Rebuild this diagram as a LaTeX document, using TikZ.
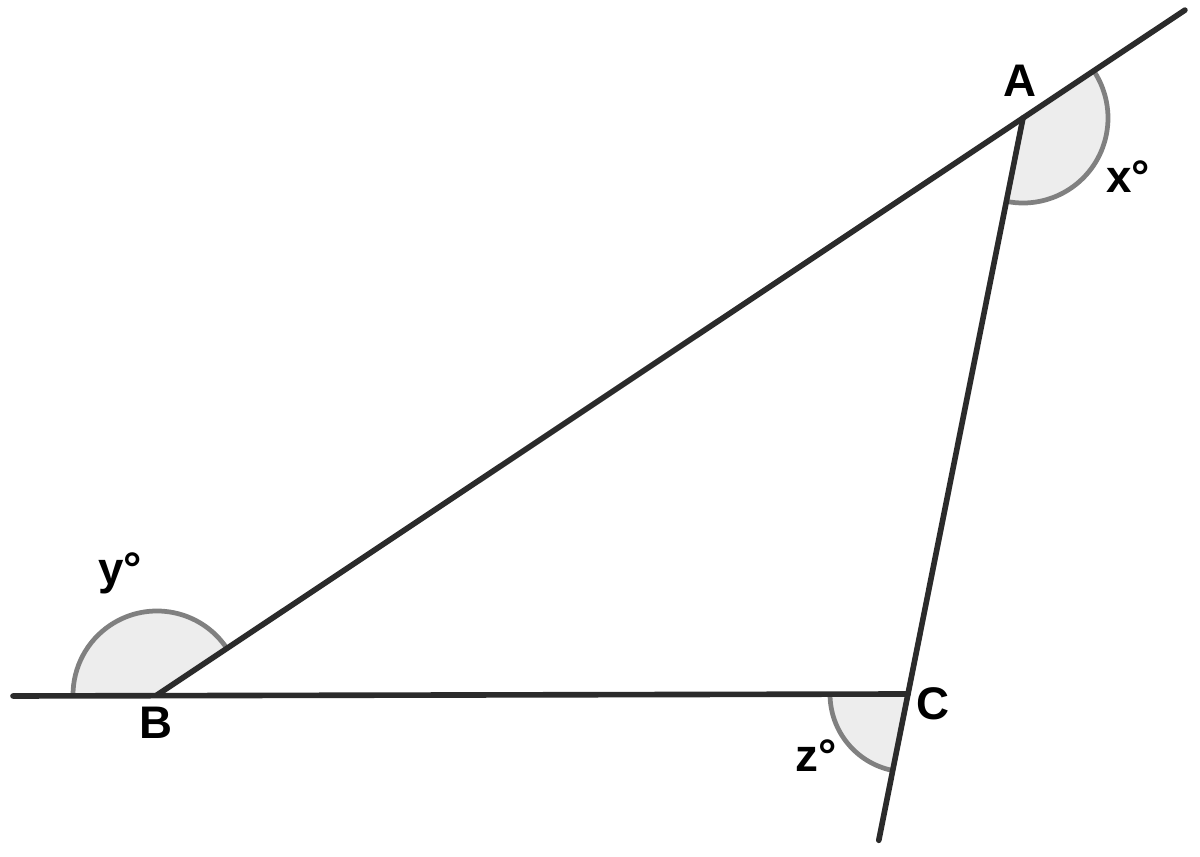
\documentclass[tikz,border=0pt]{standalone}
\usepackage{fontspec}
\setmainfont{Liberation Sans}
\usetikzlibrary{calc,angles,positioning}

\begin{document}
\begin{tikzpicture}[
    line/.style={draw=black!83, line width=1.6pt, line cap=round},
    ang/.style={draw=black!50, fill=black!7, line width=1.35pt},
    lbl/.style={font=\fontsize{13}{15}\selectfont\bfseries, inner sep=0pt, anchor=base}]
    \useasboundingbox (0,0) rectangle (12,8.57);
    % vertices and free ends
    \coordinate (A) at (10.23,7.39);
    \coordinate (B) at (1.57,1.62);
    \coordinate (C) at (9.08,1.63);
    \coordinate (Aend) at ($(B)!1.187!(A)$);
    \coordinate (Bend) at (0.13,1.61);
    \coordinate (Cend) at ($(A)!1.254!(C)$);
    % exterior angles
    \pic[ang, angle radius=0.85cm] {angle = C--A--Aend};
    \pic[ang, angle radius=0.84cm] {angle = A--B--Bend};
    \pic[ang, angle radius=0.78cm] {angle = B--C--Cend};
    % lines
    \draw[line] (Bend) -- (C);
    \draw[line] (B) -- (Aend);
    \draw[line] (A) -- (Cend);
    % labels
    \node[lbl] (labA) at (10.20,7.60) {A};
    \node[lbl] (labB) at (1.56,1.18) {B};
    \node[lbl] (labC) at (9.33,1.37) {C};
    \node[lbl] (labX) at (11.28,6.64) {x°};
    \node[lbl] (labY) at (1.20,2.72) {y°};
    \node[lbl] (labZ) at (8.16,0.85) {z°};
\end{tikzpicture}
\end{document}
